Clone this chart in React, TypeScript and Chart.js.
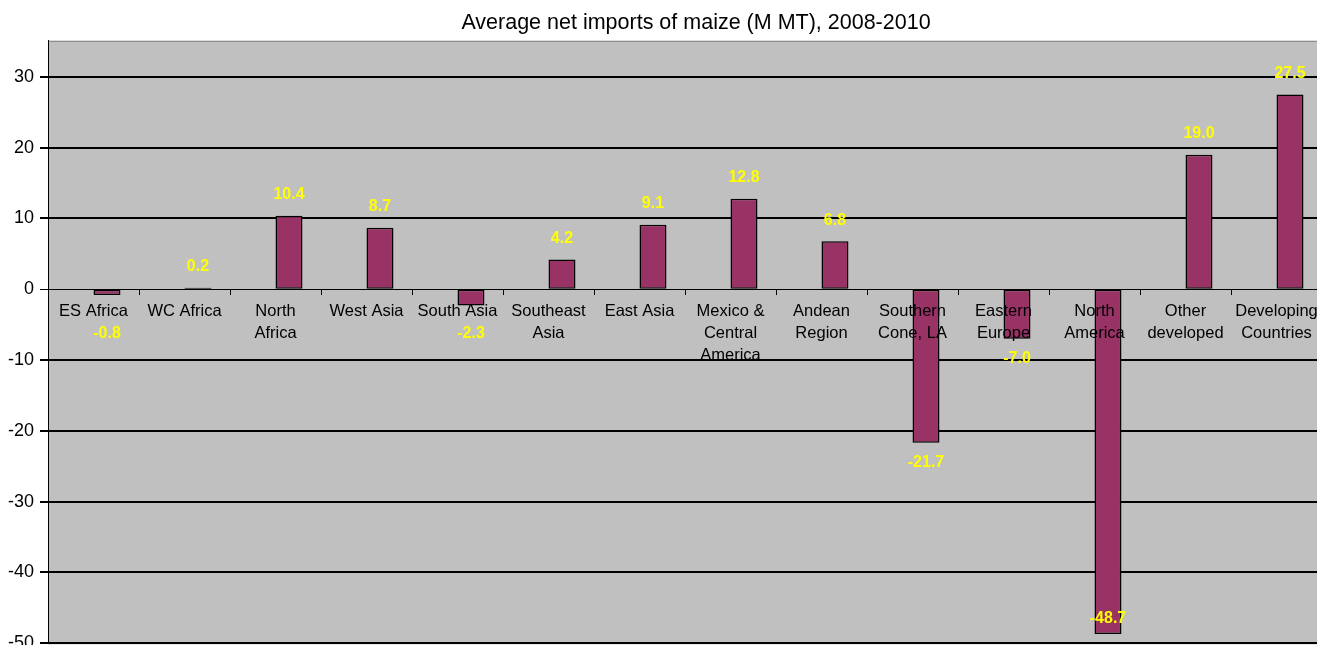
import React, { useEffect, useRef } from "react";
import { Chart, registerables } from "chart.js";

Chart.register(...registerables);

const TITLE = "Average net imports of maize (M MT), 2008-2010";
const categories: (string | string[])[] = [
  "ES Africa",
  "WC Africa",
  ["North", "Africa"],
  "West Asia",
  "South Asia",
  ["Southeast", "Asia"],
  "East Asia",
  ["Mexico &", "Central", "America"],
  ["Andean", "Region"],
  ["Southern", "Cone, LA"],
  ["Eastern", "Europe"],
  ["North", "America"],
  ["Other", "developed"],
  ["Developing", "Countries"],
];
const netImports = [-0.8, 0.2, 10.4, 8.7, -2.3, 4.2, 9.1, 12.8, 6.8, -21.7, -7.0, -48.7, 19.0, 27.5];
const emptySeries = categories.map(() => null);
const yTicks = [30, 20, 10, 0, -10, -20, -30, -40, -50];

const FONT = "'Liberation Sans', Arial, sans-serif";

const plotBg = {
  id: "plotBg",
  beforeDraw(chart: any) {
    const { ctx, chartArea } = chart;
    ctx.save();
    ctx.fillStyle = "#C0C0C0";
    ctx.fillRect(chartArea.left, chartArea.top, chartArea.right - chartArea.left, chartArea.bottom - chartArea.top);
    ctx.strokeStyle = "#808080";
    ctx.lineWidth = 1;
    ctx.strokeRect(chartArea.left + 0.5, chartArea.top + 0.5, chartArea.right - chartArea.left, chartArea.bottom - chartArea.top);
    ctx.restore();
  },
};

const valueLabels = {
  id: "valueLabels",
  afterDraw(chart: any) {
    const { ctx, chartArea } = chart;
    const meta = chart.getDatasetMeta(1);
    const y = chart.scales.y;
    const zeroY = y.getPixelForValue(0);
    ctx.save();
    ctx.font = `bold 16px ${FONT}`;
    ctx.fillStyle = "#FFFF00";
    ctx.textAlign = "center";
    ctx.textBaseline = "middle";
    meta.data.forEach((bar: any, i: number) => {
      const v = netImports[i];
      let ty: number;
      if (v >= 0) {
        ty = bar.y - 21;
      } else {
        ty = Math.max(bar.y + 20, zeroY + 44);
        ty = Math.min(ty, chartArea.bottom - 25);
      }
      ctx.fillText(v.toFixed(1), bar.x, ty);
    });
    ctx.restore();
  },
};

export default function App() {
  const ref = useRef<HTMLCanvasElement>(null);
  useEffect(() => {
    if (!ref.current) return;
    const chart = new Chart(ref.current, {
      type: "bar",
      data: {
        labels: categories,
        datasets: [
          {
            data: emptySeries as any,
            backgroundColor: "#993366",
            categoryPercentage: 0.593,
            barPercentage: 1,
          },
          {
            data: netImports,
            backgroundColor: "#993366",
            borderColor: "#000000",
            borderWidth: 1.5,
            borderSkipped: false,
            categoryPercentage: 0.593,
            barPercentage: 1,
          },
        ],
      },
      options: {
        responsive: false,
        animation: false,
        events: [],
        layout: { padding: { left: 0, right: 0, top: 0, bottom: 16 } },
        plugins: {
          legend: { display: false },
          tooltip: { enabled: false },
          title: {
            display: true,
            text: TITLE,
            color: "#000",
            font: { family: FONT, size: 21.5, weight: "normal", lineHeight: 1.2 },
            padding: { top: 10, bottom: 5 },
          },
        },
        scales: {
          x: {
            type: "category",
            position: { y: 0 } as any,
            offset: true,
            grid: {
              offset: true,
              drawOnChartArea: false,
              drawTicks: true,
              tickLength: 5,
              color: "#000",
            },
            border: { display: true, color: "#000", width: 1, z: 1 },
            ticks: {
              color: "#000",
              font: { family: FONT, size: 16.5, lineHeight: 1.333 },
              padding: 6,
              maxRotation: 0,
              minRotation: 0,
              autoSkip: false,
              z: 1,
            },
          },
          y: {
            min: -50,
            max: 35.1,
            afterBuildTicks(scale: any) {
              scale.ticks = yTicks.map((v) => ({ value: v }));
            },
            afterFit(scale: any) {
              scale.width = 48;
            },
            ticks: {
              color: "#000",
              font: { family: FONT, size: 18 },
              padding: 6,
            },
            grid: {
              color: "#000",
              lineWidth: (c: any) => (c.tick && c.tick.value === 0 ? 1 : 2),
              tickLength: 8,
            },
            border: { display: true, color: "#000", width: 1 },
          },
          spacer: {
            type: "linear",
            position: "right",
            display: true,
            afterFit(scale: any) {
              scale.width = 70;
            },
            grid: { display: false, drawTicks: false },
            border: { display: false },
            ticks: { display: false },
          },
        },
      },
      plugins: [plotBg, valueLabels],
    });
    return () => chart.destroy();
  }, []);
  return (
    <div style={{ position: "fixed", left: 0, top: 0, width: 1317, height: 645, overflow: "hidden", background: "#fff" }}>
      <canvas ref={ref} width={1392} height={660} style={{ width: 1392, height: 660, display: "block" }} />
    </div>
  );
}
